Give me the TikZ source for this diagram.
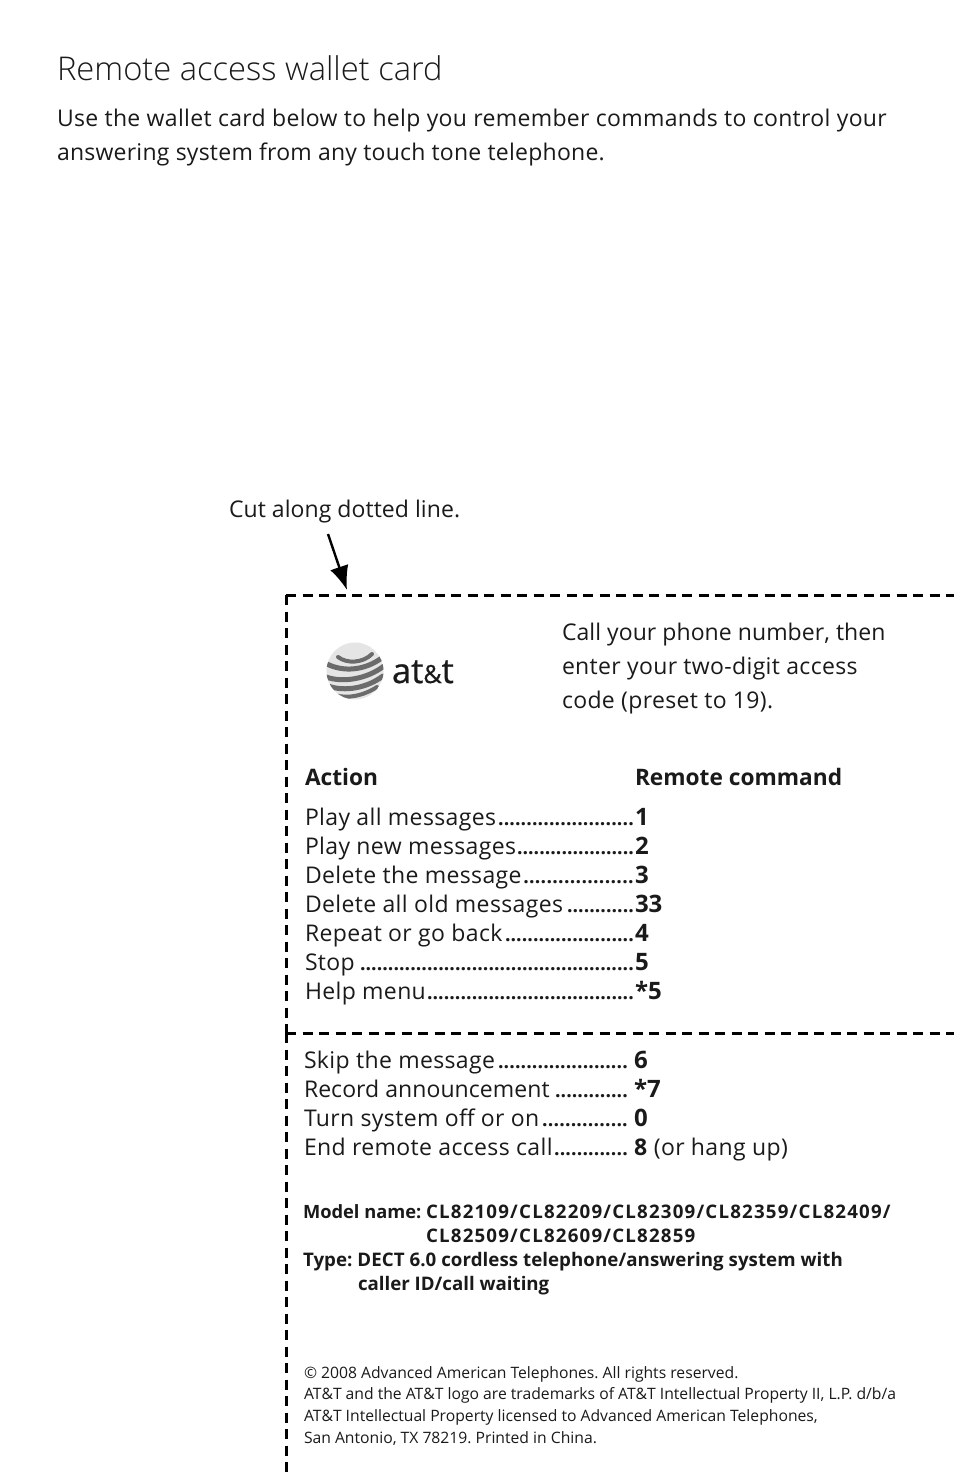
\documentclass[tikz,border=0pt]{standalone}
\usepackage{fontspec}
\setmainfont{Open Sans}
\newfontfamily\lightface{Open Sans Light}
\newfontfamily\logoface[FakeBold=0.6]{Open Sans}
\usetikzlibrary{arrows.meta}
\definecolor{ink}{HTML}{1A1A1A}
\newcommand{\lead}[1]{\hbox to #1pt{\fontsize{19.5}{19.5}\selectfont\bfseries\xleaders\hbox{.}\hfill}}
\newcommand{\spaced}[2]{\fontsize{#1}{#1}\selectfont\addfontfeatures{LetterSpace=#2}\frenchspacing}
\tikzset{
  x=1pt,y=-1pt,
  txt/.style={anchor=base west,inner sep=0pt,outer sep=0pt,text=ink},
  title/.style={txt,font=\fontsize{32.7}{32.7}\selectfont\lightface},
  intro/.style={txt,font=\spaced{23}{1.45}},
  introb/.style={txt,font=\spaced{23}{1.05}},
  body/.style={txt,font=\spaced{23}{0.3}},
  bodyw/.style={txt,font=\spaced{23}{1.5}},
  listitem/.style={txt,font=\spaced{23}{1.6}},
  listtight/.style={txt,font=\spaced{23}{0.3}},
  head/.style={txt,font=\fontsize{22.7}{22.7}\selectfont\bfseries},
  val/.style={txt,font=\fontsize{24}{24}\selectfont\bfseries},
  small/.style={txt,font=\bfseries\spaced{18.3}{0}},
  smallm/.style={txt,font=\bfseries\spaced{18.7}{0}},
  typeline/.style={txt,font=\bfseries\spaced{18.7}{0.3}},
  smallw/.style={txt,font=\bfseries\spaced{18.7}{6.4}},
  fine/.style={txt,font=\spaced{15.7}{0}},
  cutline/.style={line width=3pt,black,dash pattern=on 10pt off 6.5pt},
  pointer/.style={line width=2.4pt,black,-{Latex[length=24pt,width=19pt]}},
  leaderdots/.style={anchor=base east,inner sep=0pt,outer sep=0pt,text=ink},
  band/.style={line width=5pt,black!58,line cap=round}
}
\begin{document}
\begin{tikzpicture}
\useasboundingbox (0,0) rectangle (954,1475);
\fill[white] (0,0) rectangle (954,1475);
\node[title] (t) at (57,80) {Remote access wallet card};
\node[intro] (i1) at (57,126.5) {Use the wallet card below to help you remember commands to control your};
\node[introb] (i2) at (57,160.5) {answering system from any touch tone telephone.};
\node[body] (cut) at (229,517.5) {Cut along dotted line.};
\coordinate (as) at (328,534);
\coordinate (ae) at (347,590);
\draw[pointer] (as) -- (ae);
\coordinate (c1) at (286,595);
\coordinate (c2) at (954,595);
\coordinate (c3) at (286,1033);
\coordinate (c4) at (954,1033);
\coordinate (c5) at (286,1475);
\draw[cutline] (c1) -- (c2);
\draw[cutline] (c1) -- (c3);
\draw[cutline] (c3) -- (c4);
\draw[cutline] (c3) -- (c5);
% logo
\coordinate (g) at (355,671);
\begin{scope}[shift={(g)}]
\clip (0,0) circle (28.5);
\fill[black!10] (0,0) circle (28.5);
\draw[band,line width=4pt] (-17,-14) .. controls (-8,-7) and (8,-8) .. (17,-17);
\draw[band] (-28,-7) .. controls (-12,1) and (10,0) .. (28,-14);
\draw[band] (-29,6) .. controls (-12,12) and (12,8) .. (29,-5);
\draw[band] (-27,15) .. controls (-10,21) and (12,17) .. (28,5);
\draw[band,line width=4pt] (-20,24) .. controls (-8,28) and (8,25) .. (22,16);
\end{scope}
\node[txt,font=\logoface\fontsize{34.5}{34.5}\selectfont] (logo) at (392,683) {at{\fontsize{25}{25}\selectfont\&}t};
\node[body] (c1t) at (562,640.5) {Call your phone number, then};
\node[bodyw] (c2t) at (562,674.5) {enter your two-digit access};
\node[bodyw] (c3t) at (562,708.5) {code (preset to 19).};
\node[head] (ha) at (305,785.5) {Action};
\node[head] (hr) at (635,785.5) {Remote command};
\node[listitem] (a1) at (305,825.5) {Play all messages};
\node[listitem] (a2) at (305,854.5) {Play new messages};
\node[listitem] (a3) at (305,883.5) {Delete the message};
\node[listitem] (a4) at (305,912.5) {Delete all old messages};
\node[listitem] (a5) at (305,941.5) {Repeat or go back};
\node[listitem] (a6) at (305,970.5) {Stop};
\node[listitem] (a7) at (305,999.5) {Help menu};
\node[leaderdots] (d1) at (634,825.5) {\lead{136}};
\node[leaderdots] (d2) at (634,854.5) {\lead{117}};
\node[leaderdots] (d3) at (634,883.5) {\lead{111}};
\node[leaderdots] (d4) at (634,912.5) {\lead{67}};
\node[leaderdots] (d5) at (634,941.5) {\lead{129}};
\node[leaderdots] (d6) at (634,970.5) {\lead{274}};
\node[leaderdots] (d7) at (634,999.5) {\lead{207}};
\node[val] (v1) at (635,825.5) {1};
\node[val] (v2) at (635,854.5) {2};
\node[val] (v3) at (635,883.5) {3};
\node[val] (v4) at (635,912.5) {33};
\node[val] (v5) at (635,941.5) {4};
\node[val] (v6) at (635,970.5) {5};
\node[val] (v7) at (635,999.5) {*5};
\node[listitem] (b1) at (304,1068.5) {Skip the message};
\node[listtight] (b2) at (304,1097.5) {Record announcement};
\node[listitem] (b3) at (304,1126.5) {Turn system off or on};
\node[listitem] (b4) at (304,1155.5) {End remote access call};
\node[leaderdots] (e1) at (628,1068.5) {\lead{130}};
\node[leaderdots] (e2) at (628,1097.5) {\lead{73}};
\node[leaderdots] (e3) at (628,1126.5) {\lead{86}};
\node[leaderdots] (e4) at (628,1155.5) {\lead{74}};
\node[val] (w1) at (634,1068.5) {6};
\node[val] (w2) at (634,1097.5) {*7};
\node[val] (w3) at (634,1126.5) {0};
\node[listitem] (w4) at (634,1155.5) {\textbf{8} (or hang up)};
\node[small] (m1) at (303,1218.5) {Model name:};
\node[smallw] (m2) at (426,1218.5) {CL82109/CL82209/CL82309/CL82359/CL82409/};
\node[smallw] (m3) at (426,1242.5) {CL82509/CL82609/CL82859};
\node[typeline] (m4) at (303,1266.5) {Type: DECT 6.0 cordless telephone/answering system with};
\node[smallm] (m5) at (358,1290.5) {caller ID/call waiting};
\node[fine] (f1) at (304,1378.5) {© 2008 Advanced American Telephones. All rights reserved.};
\node[fine] (f2) at (304,1399.5) {AT\&T and the AT\&T logo are trademarks of AT\&T Intellectual Property II, L.P. d/b/a};
\node[fine] (f3) at (304,1421.5) {AT\&T Intellectual Property licensed to Advanced American Telephones,};
\node[fine] (f4) at (304,1443.5) {San Antonio, TX 78219. Printed in China.};
\end{tikzpicture}
\end{document}
